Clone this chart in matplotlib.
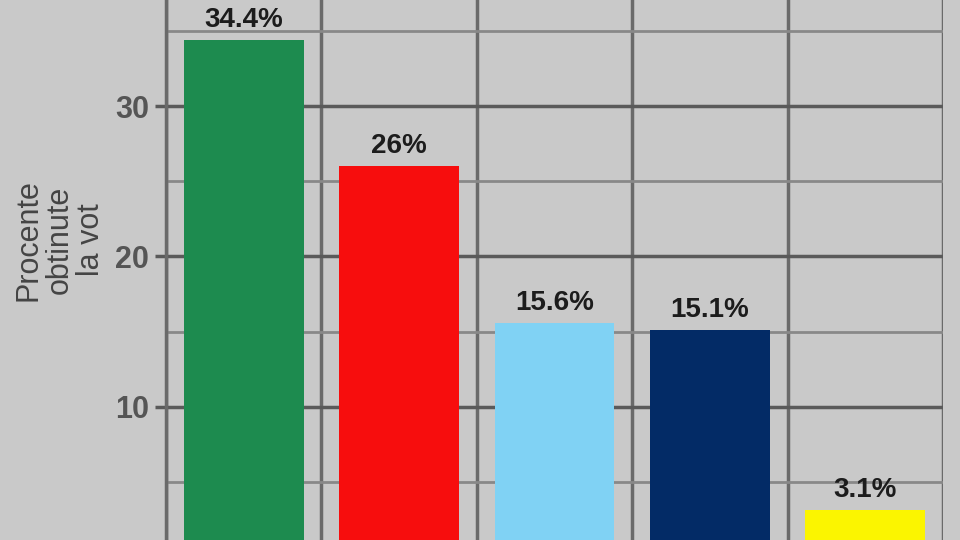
import matplotlib.pyplot as plt
from matplotlib.ticker import MultipleLocator, FixedLocator

# vote shares, in drawing order
values = [34.4, 26.0, 15.6, 15.1, 3.1]
labels = ["34.4%", "26%", "15.6%", "15.1%", "3.1%"]
colors = ["#1d8b4f", "#f70d0d", "#80d2f4", "#032b66", "#fbf500"]
yticks = [10, 20, 30]
ylabel = "Procente\nobtinute\nla vot"

BG = "#c9c9c9"


def main():
  plt.rcParams["font.family"] = ["Liberation Sans", "DejaVu Sans"]

  fig = plt.figure(figsize=(9.6, 5.4), dpi=100)
  fig.patch.set_facecolor(BG)
  ax = fig.add_axes([166 / 960, 0, 777 / 960, 1])
  ax.set_facecolor(BG)

  xs = list(range(len(values)))
  ax.bar(xs, values, width=0.77, color=colors, zorder=3)

  for x, v, t in zip(xs, values, labels):
    ax.annotate(t, (x, v), xytext=(0, 5), textcoords="offset points",
                ha="center", va="bottom", fontsize=20, fontweight="bold",
                color="#1c1c1c", zorder=4)

  ax.set_xlim(-0.5, len(values) - 0.5)
  ax.set_ylim(1.13, 37.07)

  # vertical grid on category boundaries
  ax.xaxis.set_major_locator(FixedLocator(xs))
  ax.xaxis.set_minor_locator(FixedLocator([i - 0.5 for i in range(len(values) + 1)]))
  ax.tick_params(axis="x", which="both", length=0, labelbottom=False)
  ax.grid(True, axis="x", which="minor", color="#6a6a6a", linewidth=2.5, zorder=1)

  ax.yaxis.set_major_locator(FixedLocator(yticks))
  ax.yaxis.set_minor_locator(MultipleLocator(5))
  ax.grid(True, axis="y", which="major", color="#5a5a5a", linewidth=2.5, zorder=1)
  ax.grid(True, axis="y", which="minor", color="#888888", linewidth=2, zorder=1)
  ax.tick_params(axis="y", which="major", length=8, width=2.5, color="#5a5a5a",
                 labelsize=22, labelcolor="#555555", pad=4)
  ax.tick_params(axis="y", which="minor", length=0)
  for lab in ax.get_yticklabels():
    lab.set_fontweight("bold")

  for s in ["top", "bottom", "right"]:
    ax.spines[s].set_visible(False)
  ax.spines["left"].set_color("#6a6a6a")
  ax.spines["left"].set_linewidth(2.5)

  fig.text(60 / 960, 1 - 240 / 540, ylabel, rotation=90, ha="center", va="center",
           fontsize=22, color="#444444", linespacing=1.05, multialignment="center")

  fig.savefig("out.png", dpi=100, facecolor=BG)


if __name__ == "__main__":
  main()
